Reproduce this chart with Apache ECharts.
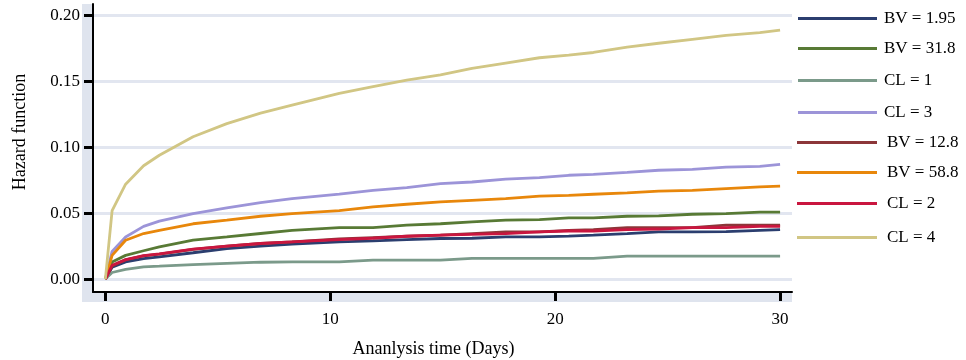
<!DOCTYPE html>
<html>
<head>
<meta charset="utf-8">
<script src="https://cdn.jsdelivr.net/npm/echarts@6/dist/echarts.min.js"></script>
<style>
html,body{margin:0;padding:0;background:#fff;}
#chart{width:966px;height:360px;}
</style>
</head>
<body>
<div id="chart"></div>
<script>
// Analysis time (days) at which values were read
const days = [0, 0.3, 0.9, 1.7, 2.4, 3.9, 5.4, 6.9, 8.3, 10.4, 11.9, 13.4, 14.9, 16.3, 17.8, 19.3, 20.6, 21.7, 23.2, 24.6, 26.1, 27.6, 29.1, 30];

const bv195 = [0, 0.009, 0.013, 0.0155, 0.0169, 0.020, 0.0232, 0.025, 0.0265, 0.0283, 0.029, 0.030, 0.0308, 0.031, 0.032, 0.032, 0.0326, 0.0333, 0.0345, 0.0358, 0.0358, 0.036, 0.037, 0.0376];
const bv318 = [0, 0.013, 0.018, 0.0215, 0.0245, 0.0295, 0.032, 0.0346, 0.037, 0.039, 0.039, 0.041, 0.042, 0.0434, 0.0447, 0.0452, 0.0465, 0.0465, 0.0477, 0.048, 0.0492, 0.0497, 0.0508, 0.0508];
const cl1   = [0, 0.005, 0.0073, 0.0093, 0.0098, 0.011, 0.012, 0.0128, 0.013, 0.013, 0.0144, 0.0144, 0.0144, 0.0157, 0.0157, 0.0157, 0.0157, 0.0157, 0.0174, 0.0174, 0.0174, 0.0174, 0.0174, 0.0174];
const cl3   = [0, 0.021, 0.032, 0.040, 0.044, 0.0497, 0.054, 0.058, 0.061, 0.0645, 0.0674, 0.0695, 0.0725, 0.0737, 0.0758, 0.077, 0.0788, 0.0795, 0.081, 0.0826, 0.0833, 0.085, 0.0856, 0.087];
const bv128 = [0, 0.010, 0.0146, 0.0177, 0.019, 0.0225, 0.025, 0.027, 0.0283, 0.0305, 0.0315, 0.0325, 0.0333, 0.0345, 0.0358, 0.0358, 0.037, 0.0375, 0.039, 0.039, 0.039, 0.041, 0.041, 0.041];
const bv588 = [0, 0.018, 0.0295, 0.0346, 0.037, 0.042, 0.0447, 0.0477, 0.0497, 0.052, 0.0548, 0.0568, 0.0586, 0.0598, 0.061, 0.0629, 0.0636, 0.0644, 0.0654, 0.0667, 0.0674, 0.0687, 0.070, 0.0705];
const cl2   = [0, 0.0105, 0.0148, 0.0178, 0.0192, 0.0227, 0.025, 0.027, 0.0283, 0.030, 0.031, 0.0325, 0.0333, 0.034, 0.0345, 0.0358, 0.0365, 0.0365, 0.0376, 0.038, 0.039, 0.039, 0.040, 0.040];
const cl4   = [0, 0.052, 0.072, 0.086, 0.094, 0.108, 0.118, 0.126, 0.132, 0.141, 0.146, 0.151, 0.155, 0.160, 0.164, 0.168, 0.170, 0.172, 0.176, 0.179, 0.182, 0.185, 0.187, 0.189];

const seriesNames = ['BV = 1.95', 'BV = 31.8', 'CL = 1', 'CL = 3', 'BV = 12.8', 'BV = 58.8', 'CL = 2', 'CL = 4'];
const seriesValues = [bv195, bv318, cl1, cl3, bv128, bv588, cl2, cl4];
const seriesColors = ['#2b3e6f', '#587a35', '#7b9a8a', '#9c94d8', '#8c3639', '#e8870b', '#c9163f', '#d1c684'];

const yTicks = [0, 0.05, 0.10, 0.15, 0.20];
const xTicks = [0, 10, 20, 30];

const legendCenters = [18, 48, 80, 112, 142, 172, 203, 237];

const serif = 'Liberation Serif';

const chart = echarts.init(document.getElementById('chart'));

const series = seriesNames.map((n, i) => ({
  name: n,
  type: 'line',
  showSymbol: false,
  symbol: 'none',
  smooth: false,
  lineStyle: { width: 2.8, color: seriesColors[i] },
  itemStyle: { color: seriesColors[i] },
  data: days.map((d, k) => [d, seriesValues[i][k]]),
  z: 3 + i
}));

const legends = seriesNames.map((n, i) => ({
  left: i < 4 ? 798 : 797,
  top: legendCenters[i] - 8,
  data: [n],
  icon: 'rect',
  itemWidth: i < 4 ? 79 : 80,
  itemHeight: 3,
  selectedMode: false,
  padding: 0,
  textStyle: { fontFamily: serif, fontSize: 17, color: '#000', padding: [0, 0, 0, i < 4 ? 2 : 5] }
}));

chart.setOption({
  animation: false,
  backgroundColor: '#fff',
  grid: { left: 93, right: 174, top: 4, bottom: 68, containLabel: false, outerBoundsMode: 'none' },
  graphic: [
    { type: 'rect', shape: { x: 82, y: 4, width: 11, height: 298 }, style: { fill: '#dfe4ee' }, z: -10, silent: true },
    { type: 'rect', shape: { x: 82, y: 292, width: 710, height: 10 }, style: { fill: '#dfe4ee' }, z: -10, silent: true }
  ],
  legend: legends,
  xAxis: {
    type: 'value',
    min: -0.55,
    max: 30.53,
    name: 'Ananlysis time (Days)',
    nameLocation: 'middle',
    nameGap: 48,
    nameTextStyle: { fontFamily: serif, fontSize: 18, color: '#000', padding: [0, 18, 0, 0] },
    axisLine: { show: true, onZero: false, lineStyle: { color: '#000', width: 2 } },
    axisTick: { show: true, length: 9, lineStyle: { color: '#000', width: 3 }, customValues: xTicks },
    axisLabel: { fontFamily: serif, fontSize: 17, color: '#000', margin: 19, customValues: xTicks },
    splitLine: { show: false }
  },
  yAxis: {
    type: 'value',
    min: -0.0098,
    max: 0.2088,
    name: 'Hazard function',
    nameLocation: 'middle',
    nameGap: 64,
    nameTextStyle: { fontFamily: serif, fontSize: 18, color: '#000', padding: [0, 0, 0, 32] },
    axisLine: { show: true, onZero: false, lineStyle: { color: '#000', width: 2 } },
    axisTick: { show: true, length: 9, lineStyle: { color: '#000', width: 3 }, customValues: yTicks },
    axisLabel: { fontFamily: serif, fontSize: 17, color: '#000', margin: 13, customValues: yTicks, formatter: v => v.toFixed(2) },
    splitLine: { show: true, lineStyle: { color: '#e2e6f0', width: 3 } }
  },
  series: series
});
</script>
</body>
</html>
